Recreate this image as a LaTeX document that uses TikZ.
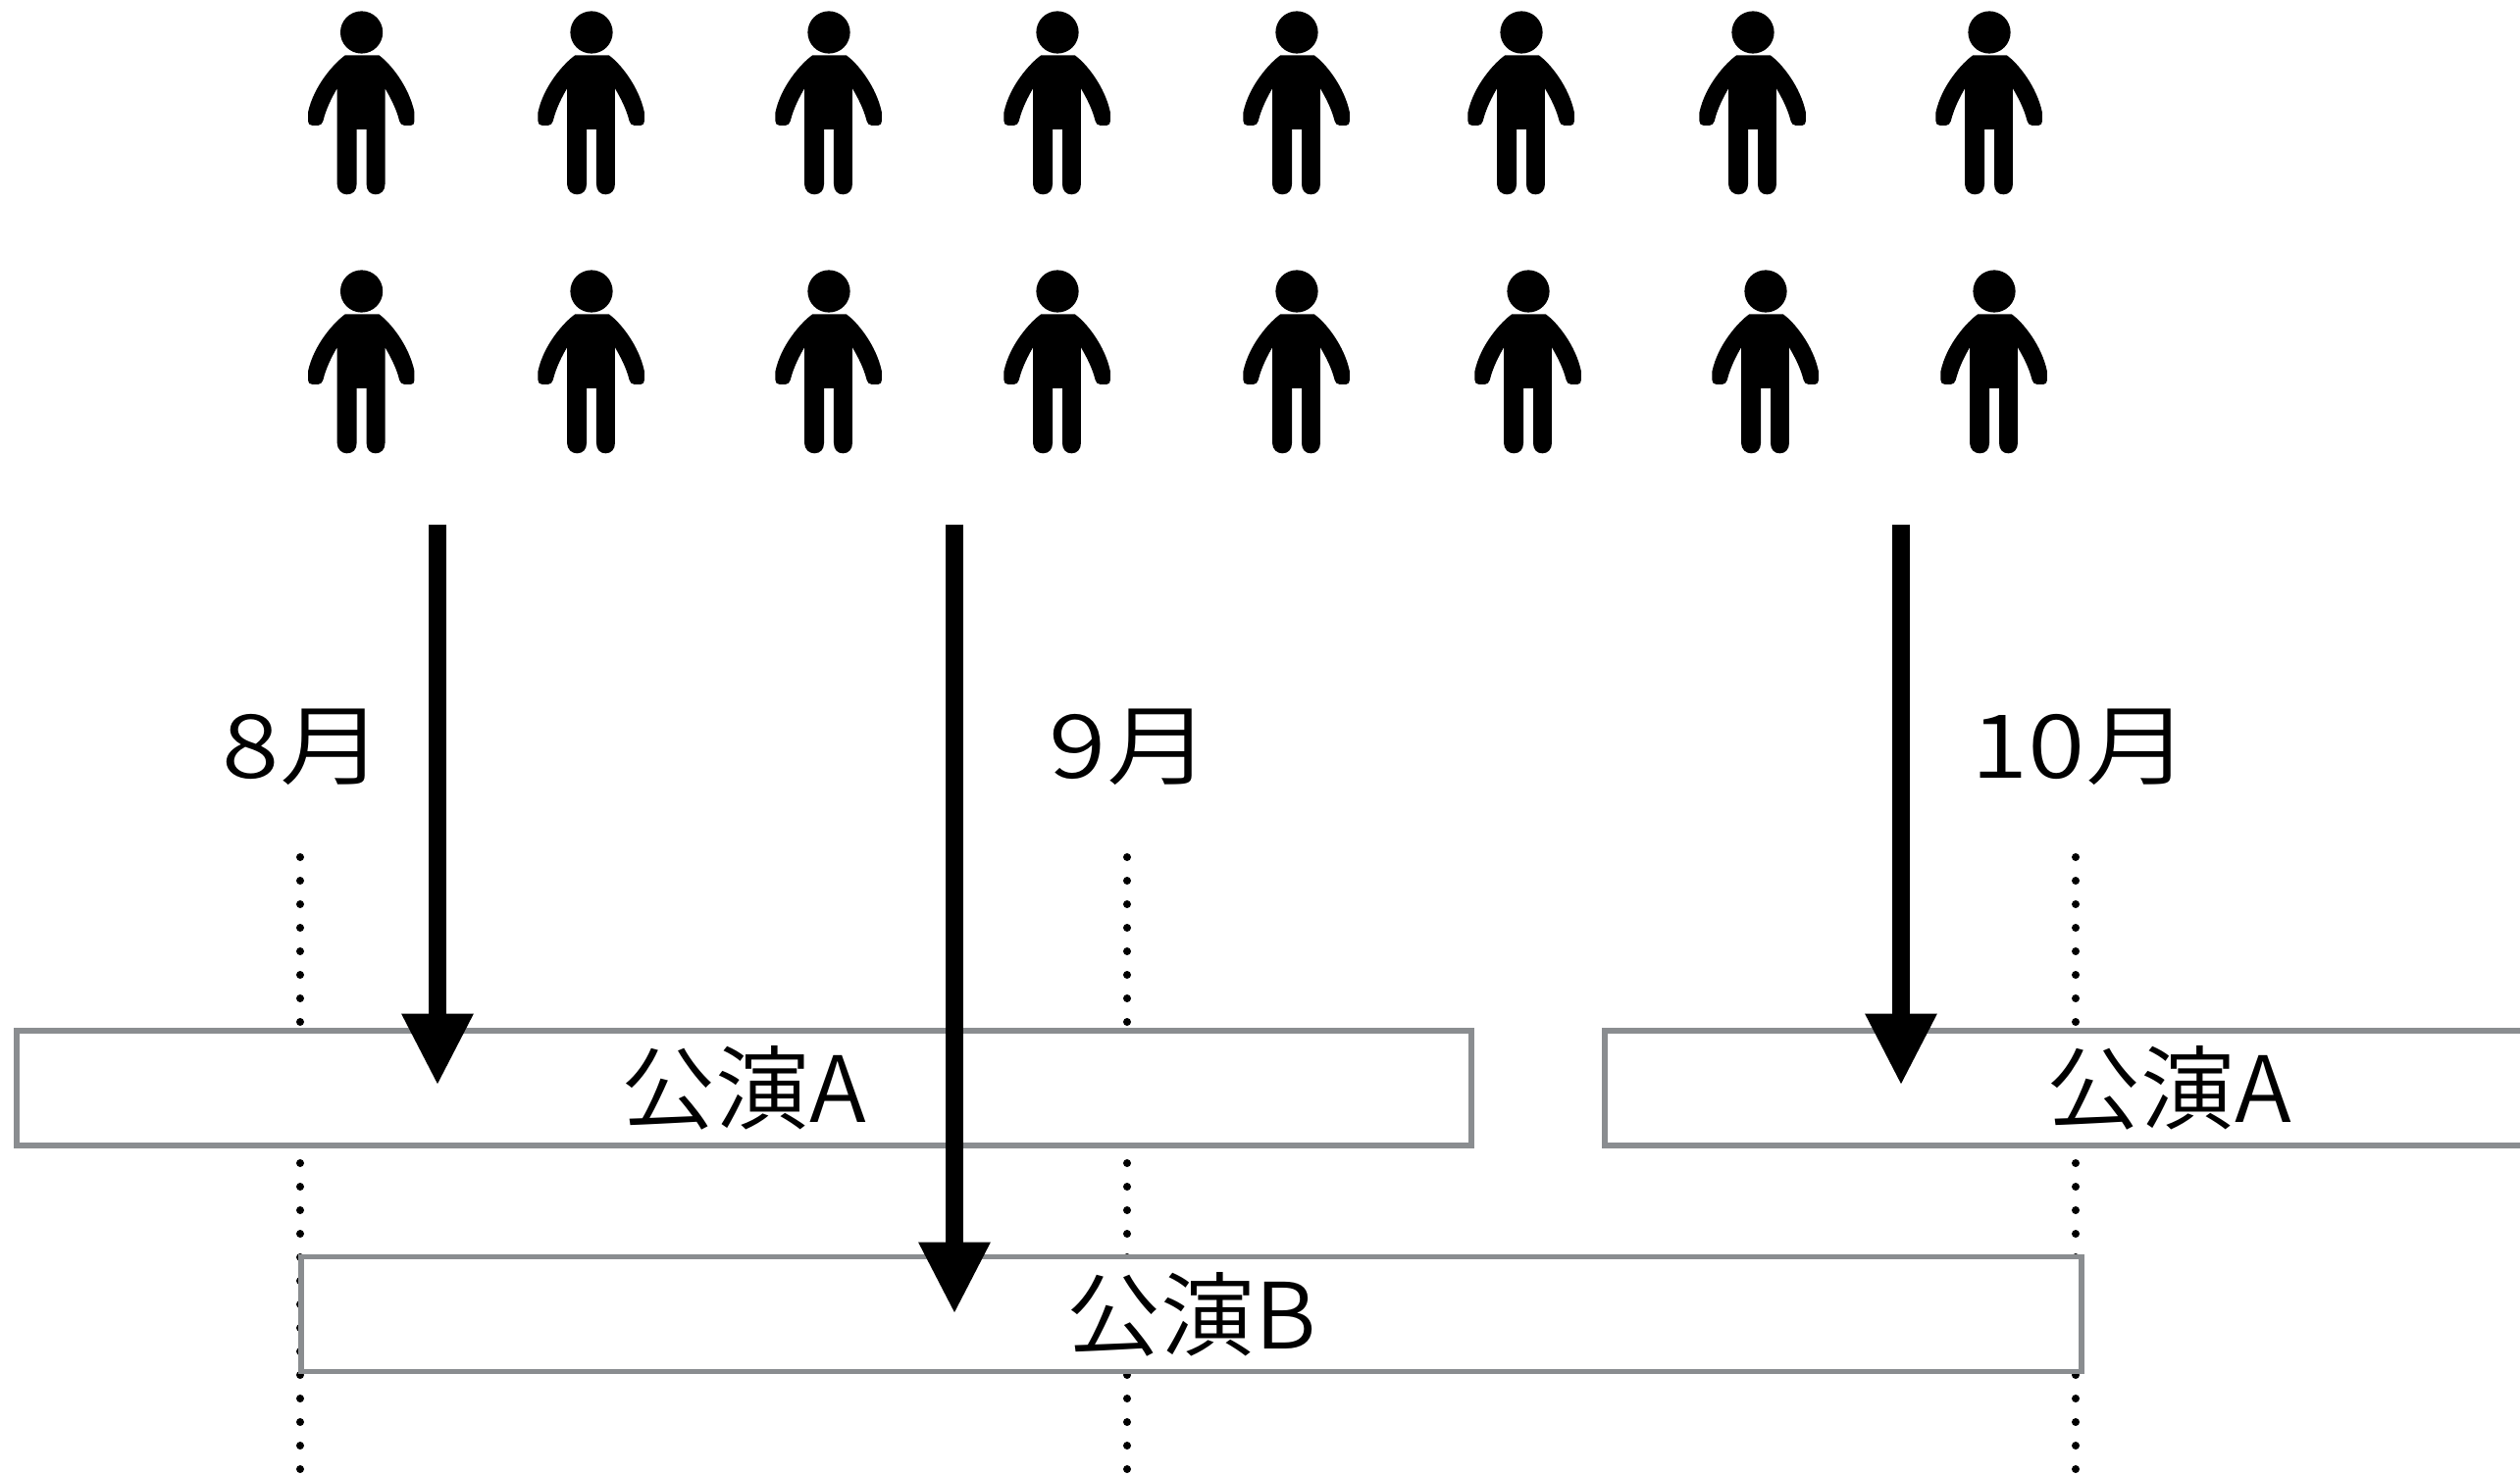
\documentclass[tikz,border=0pt]{standalone}
\usepackage{fontspec}
\usetikzlibrary{arrows.meta, positioning}
\newfontfamily\jpfont[FakeStretch=1.03]{Noto Sans CJK JP DemiLight}
\newfontfamily\monthfont[FakeStretch=1.18]{Noto Sans CJK JP DemiLight}
\definecolor{boxgray}{HTML}{8A8D90}
\tikzset{
    stage/.style={rectangle, draw=boxgray, fill=white, line width=0.055cm, inner sep=0pt, minimum height=1.17cm, font=\jpfont\fontsize{26.5}{30}\selectfont},
    month/.style={inner sep=0pt, font=\monthfont\fontsize{25.6}{30}\selectfont},
    timeline/.style={line width=0.08cm, line cap=round, dash pattern=on 0pt off 0.24cm},
    flow/.style={line width=0.187cm, -{Triangle[length=0.735cm, width=0.68cm]}},
    person/.pic={
        \fill[x=0.00333cm, y=-0.00333cm] (0,0) circle (65);
        \fill[x=0.00333cm, y=-0.00333cm] (-50,70) .. controls (-85,95) and (-147,165) .. (-164,245)
            -- (-164,272) .. controls (-164,280) and (-160,285) .. (-152,285) -- (-132,285) .. controls (-125,285) and (-121,280) .. (-118,272)
            .. controls (-108,232) and (-90,198) .. (-75,172)
            -- (-75,465) .. controls (-75,485) and (-60,497) .. (-45,497) .. controls (-26,497) and (-15,485) .. (-15,465)
            -- (-15,297) -- (15,297) -- (15,465) .. controls (15,485) and (26,497) .. (43,497) .. controls (60,497) and (72,485) .. (72,465)
            -- (72,172) .. controls (87,198) and (106,232) .. (116,272) .. controls (119,280) and (123,285) .. (130,285) -- (152,285)
            .. controls (158,285) and (162,280) .. (162,272) -- (162,245) .. controls (145,165) and (88,95) .. (53,70) -- cycle;
    }
}
\begin{document}
\begin{tikzpicture}
    \path[use as bounding box, clip] (0,0) rectangle (25.69,15.03);

    % audience, two rows
    \foreach \px [count=\i] in {3.686, 6.03, 8.45, 10.78, 13.22, 15.51, 17.87, 20.28} {
        \pic (top\i) at (\px, 14.70) {person};
    }
    \foreach \px [count=\i] in {3.686, 6.03, 8.45, 10.78, 13.22, 15.58, 18.00, 20.33} {
        \pic (bottom\i) at (\px, 12.06) {person};
    }

    % month labels and dotted lines
    \node[month] (aug) at (3.09, 7.41) {8月};
    \node[month] (sep) at (11.52, 7.41) {9月};
    \node[month] (oct) at (21.21, 7.41) {10月};

    \coordinate (augtop) at (3.06, 6.29);
    \coordinate (augend) at (3.06, 0.02);
    \coordinate (septop) at (11.49, 6.29);
    \coordinate (sepend) at (11.49, 0.02);
    \coordinate (octtop) at (21.16, 6.29);
    \coordinate (octend) at (21.16, 0.02);
    \draw[timeline] (augtop) -- (augend);
    \draw[timeline] (septop) -- (sepend);
    \draw[timeline] (octtop) -- (octend);

    % performances
    \node[stage, minimum width=14.83cm] (showa) at (7.585, 3.935) {公演A};
    \node[stage, minimum width=11.5cm] (showc) at (22.11, 3.935) {公演A};
    \node[stage, minimum width=18.15cm] (showb) at (12.145, 1.63) {公演B};

    % arrows
    \coordinate (flowa) at (4.46, 9.68);
    \coordinate (flowb) at (9.73, 9.68);
    \coordinate (flowc) at (19.38, 9.68);
    \coordinate (tipa) at (4.46, 3.96);
    \coordinate (tipb) at (9.73, 1.63);
    \coordinate (tipc) at (19.38, 3.96);
    \draw[flow] (flowa) -- (tipa);
    \draw[flow] (flowb) -- (tipb);
    \draw[flow] (flowc) -- (tipc);
\end{tikzpicture}
\end{document}
